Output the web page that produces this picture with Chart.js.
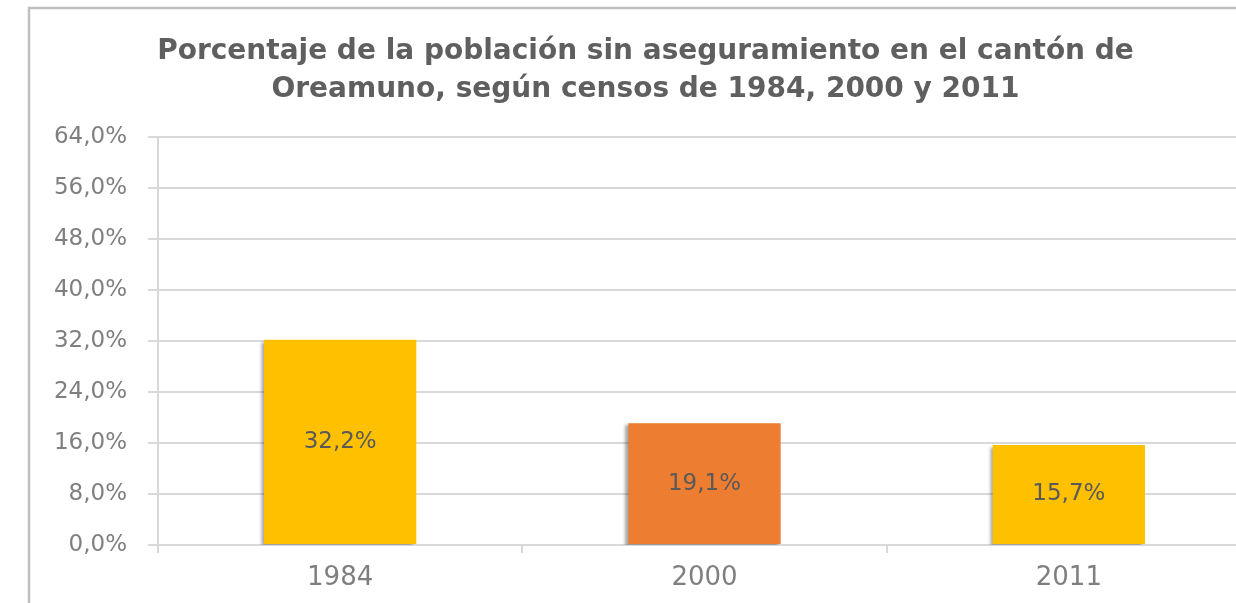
<!DOCTYPE html>
<html><head><meta charset="utf-8">
<script src="https://cdn.jsdelivr.net/npm/chart.js@4/dist/chart.umd.min.js"></script>
<style>
html,body{margin:0;padding:0;background:#fff;overflow:hidden;width:1236px;height:603px}
#wrap{position:absolute;left:0;top:0;width:1270px;height:603px}
</style></head>
<body><div id="wrap"><canvas id="c"></canvas></div>
<script>
const titleLines = ['Porcentaje de la población sin aseguramiento en el cantón de', 'Oreamuno, según censos de 1984, 2000 y 2011'];
const categories = ['1984', '2000', '2011'];
const values = [32.2, 19.1, 15.7];
const barColors = ['#FFC000', '#ED7D31', '#FFC000'];
const yMin = 0, yMax = 64, yStep = 8;

const FONT = "'DejaVu Sans', 'Open Sans', sans-serif";
const fmt = v => Number(v).toFixed(1).replace('.', ',') + '%';

const framePlugin = {
  id: 'frame',
  beforeDraw(chart) {
    const ctx = chart.ctx;
    ctx.save();
    ctx.strokeStyle = '#bfbfbf';
    ctx.lineWidth = 2.5;
    ctx.beginPath();
    ctx.moveTo(29, 700); ctx.lineTo(29, 8); ctx.lineTo(1300, 8);
    ctx.stroke();
    ctx.restore();
  }
};

const barPlugin = {
  id: 'barDeco',
  beforeDatasetsDraw(chart) {
    const ctx = chart.ctx;
    ctx.save();
    ctx.shadowColor = 'rgba(0,0,0,0.35)';
    ctx.shadowBlur = 3;
    ctx.shadowOffsetX = -3;
    ctx.shadowOffsetY = 2;
  },
  afterDatasetsDraw(chart) {
    const ctx = chart.ctx;
    ctx.restore();
    ctx.save();
    ctx.font = "23px " + FONT;
    ctx.fillStyle = '#595959';
    ctx.textAlign = 'center';
    ctx.textBaseline = 'middle';
    const meta = chart.getDatasetMeta(0);
    meta.data.forEach((bar, i) => {
      const y = (bar.y + bar.base) / 2;
      ctx.fillText(fmt(chart.data.datasets[0].data[i]), bar.x, y);
    });
    ctx.restore();
  }
};

new Chart(document.getElementById('c'), {
  type: 'bar',
  data: {
    labels: categories,
    datasets: [{
      data: values,
      backgroundColor: barColors,
      borderWidth: 0,
      barPercentage: 0.418,
      categoryPercentage: 1.0
    }]
  },
  options: {
    responsive: true,
    maintainAspectRatio: false,
    animation: false,
    events: [],
    layout: { padding: { left: 40, right: 19, top: 0, bottom: 0 } },
    plugins: {
      legend: { display: false },
      tooltip: { enabled: false },
      title: {
        display: true,
        text: titleLines,
        color: '#5f5f5f',
        font: { family: FONT, size: 28, weight: 'bold', lineHeight: 1.357 },
        padding: { top: 33, bottom: 28 }
      }
    },
    scales: {
      x: {
        grid: { offset: true, drawOnChartArea: false, color: '#d9d9d9', lineWidth: 2, tickLength: 8 },
        border: { display: true, color: '#d9d9d9', width: 2 },
        ticks: { color: '#7f7f7f', font: { family: FONT, size: 26 }, padding: 10 },
        afterFit(s) { s.height = 58; }
      },
      y: {
        min: yMin, max: yMax,
        ticks: { stepSize: yStep, color: '#7f7f7f', font: { family: FONT, size: 23 }, padding: 21, callback: v => fmt(v) },
        grid: { color: '#d9d9d9', lineWidth: 2, tickLength: 10 },
        border: { display: true, color: '#d9d9d9', width: 2 },
        afterFit(s) { s.width = 118; }
      }
    }
  },
  plugins: [framePlugin, barPlugin]
});
</script>
</body></html>
